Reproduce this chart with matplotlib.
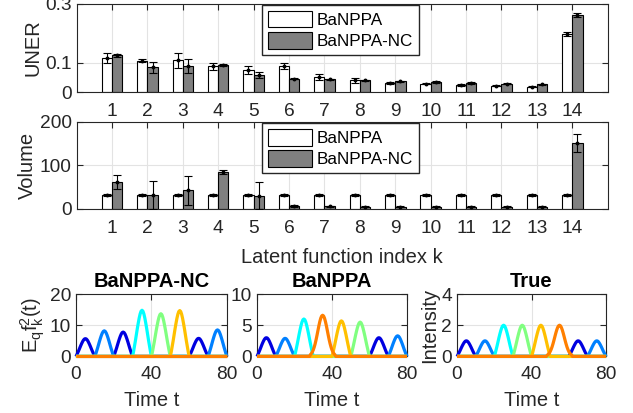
import matplotlib
matplotlib.use("Agg")
import matplotlib.pyplot as plt
import numpy as np

plt.rcParams['font.family'] = ['Liberation Sans', 'DejaVu Sans']
plt.rcParams['mathtext.fontset'] = 'custom'
plt.rcParams['mathtext.rm'] = 'Liberation Sans'
plt.rcParams['mathtext.it'] = 'Liberation Sans'

# --- bar data: latent function index k = 1..14 ---
k_idx = np.arange(1, 15)
uner_banppa = [0.116, 0.107, 0.108, 0.087, 0.075, 0.090, 0.050, 0.040, 0.031, 0.028, 0.024, 0.022, 0.018, 0.198]
uner_banppa_err = [0.018, 0.006, 0.026, 0.011, 0.013, 0.010, 0.010, 0.008, 0.002, 0.002, 0.002, 0.002, 0.002, 0.006]
uner_nc = [0.125, 0.084, 0.090, 0.093, 0.058, 0.046, 0.043, 0.040, 0.036, 0.034, 0.031, 0.028, 0.026, 0.261]
uner_nc_err = [0.005, 0.018, 0.024, 0.003, 0.010, 0.002, 0.002, 0.002, 0.002, 0.002, 0.002, 0.002, 0.002, 0.007]

vol_banppa = [32, 32, 32, 32, 32, 32, 32, 32, 32, 32, 32, 32, 32, 32]
vol_banppa_err = [1.5] * 14
vol_nc = [62, 32, 43, 85, 30, 7, 6, 5, 5, 5, 5, 5, 5, 151]
vol_nc_err = [16, 33, 33, 5, 31, 2, 1.5, 1.5, 1.5, 1.5, 1.5, 1.5, 1.5, 20]

# --- intensity curves: bumps centred at these times ---
bump_centres = [5, 15, 25, 35, 45, 55, 65, 75]
nc_heights = [5.7, 8.2, 7.8, 14.8, 13.7, 14.7, 5.8, 8.5]
nc_funcs = [0, 1, 0, 2, 3, 4, 0, 1]
ba_heights = [3.0, 2.9, 6.0, 6.6, 5.7, 5.5, 3.0, 3.3]
ba_funcs = [0, 1, 2, 5, 4, 3, 0, 1]
true_heights = [1, 1, 2, 2, 2, 2, 1, 1]
true_funcs = [0, 1, 2, 3, 4, 5, 0, 1]

func_colors = ['#0000e0', '#0080ff', '#00ffff', '#80ff80', '#ffc000', '#ff7f00']

# bump shapes, sampled every 0.5 time units
hump_offsets = np.arange(-5, 5.01, 0.5)
hump_shape = [0, .10, .22, .34, .47, .60, .72, .83, .92, .98, 1,
              .98, .92, .83, .72, .60, .47, .34, .22, .10, 0]
bell_offsets = np.arange(-7, 7.01, 0.5)
bell_shape = [0, .044, .070, .107, .157, .224, .306, .404, .514, .630, .744, .847, .929, .982, 1,
              .982, .929, .847, .744, .630, .514, .404, .306, .224, .157, .107, .070, .044, 0]

TXT = '#262626'
TICK_FS = 13.8
LABEL_FS = 14.5


def style_axes(ax, pad):
    ax.tick_params(direction='in', top=True, right=True, length=4, width=0.8,
                   colors=TXT, labelcolor=TXT, labelsize=TICK_FS)
    ax.tick_params(axis='x', pad=pad)
    for s in ax.spines.values():
        s.set_color(TXT)
        s.set_linewidth(0.8)
    ax.grid(True, color='#e3e3e3', linewidth=0.8)
    ax.set_axisbelow(True)


def bar_panel(ax, a, a_err, b, b_err, ylim, yticks, ylabel):
    w = 0.29
    ax.bar(k_idx - 0.145, a, w, color='white', edgecolor='black', linewidth=0.8, label='BaNPPA', zorder=2)
    ax.bar(k_idx + 0.145, b, w, color='#808080', edgecolor='black', linewidth=0.8, label='BaNPPA-NC', zorder=2)
    ax.errorbar(k_idx - 0.145, a, yerr=a_err, fmt='o', ms=1.8, color='black', ecolor='black',
                elinewidth=0.8, capsize=3, capthick=0.8, zorder=3)
    ax.errorbar(k_idx + 0.145, b, yerr=b_err, fmt='o', ms=1.8, color='black', ecolor='black',
                elinewidth=0.8, capsize=3, capthick=0.8, zorder=3)
    ax.set_xlim(0, 15)
    ax.set_ylim(*ylim)
    ax.set_xticks(k_idx)
    ax.set_yticks(yticks)
    ax.set_yticklabels([('%g' % v) for v in yticks])
    ax.set_ylabel(ylabel, fontsize=LABEL_FS, color=TXT, labelpad=2)
    style_axes(ax, pad=8)
    ax.legend(loc='upper left', bbox_to_anchor=(0.349, 0.985), borderaxespad=0, fontsize=12.3,
              fancybox=False, edgecolor=TXT, framealpha=1, handlelength=2.6, handleheight=1.1,
              handletextpad=0.25, labelspacing=0.25, borderpad=0.35)


def curve_panel(ax, heights, funcs, ylim, yticks, title, ylabel=None):
    for k, col in enumerate(func_colors):
        t = [0]
        y = [0]
        for c, h, f in zip(bump_centres, heights, funcs):
            if f != k:
                continue
            offs, shape = (bell_offsets, bell_shape) if k == 5 else (hump_offsets, hump_shape)
            t.extend(c + offs)
            y.extend(h * np.array(shape))
        t.append(80)
        y.append(0)
        # unclipped so the zero baseline shows at full width over the bottom spine
        ax.plot(t, y, color=col, linewidth=2.3, solid_capstyle='butt', zorder=3 + k, clip_on=False)
    ax.set_xlim(0, 80)
    ax.set_ylim(*ylim)
    ax.set_xticks([0, 40, 80])
    ax.set_yticks(yticks)
    ax.set_title(title, fontsize=LABEL_FS, fontweight='bold', pad=5)
    ax.set_xlabel('Time t', fontsize=LABEL_FS, color=TXT, labelpad=6)
    if ylabel:
        ax.set_ylabel(ylabel, fontsize=LABEL_FS, color=TXT, labelpad=2)
    style_axes(ax, pad=7)


fig = plt.figure(figsize=(6.33, 4.13), dpi=100)

ax_uner = fig.add_axes([0.121, 0.777, 0.839, 0.214])
bar_panel(ax_uner, uner_banppa, uner_banppa_err, uner_nc, uner_nc_err,
          (0, 0.3), [0, 0.1, 0.3], 'UNER')

ax_vol = fig.add_axes([0.121, 0.494, 0.839, 0.211])
bar_panel(ax_vol, vol_banppa, vol_banppa_err, vol_nc, vol_nc_err,
          (0, 200), [0, 100, 200], 'Volume')
ax_vol.set_xlabel('Latent function index k', fontsize=LABEL_FS, color=TXT, labelpad=8)

ax_nc = fig.add_axes([0.120, 0.137, 0.2385, 0.151])
curve_panel(ax_nc, nc_heights, nc_funcs, (0, 20), [0, 10, 20], 'BaNPPA-NC',
            r'$\mathrm{E}_{\mathrm{q}}\mathrm{f}_{\mathrm{k}}^{2}\mathrm{(t)}$')

ax_ba = fig.add_axes([0.406, 0.137, 0.237, 0.151])
curve_panel(ax_ba, ba_heights, ba_funcs, (0, 10), [0, 5, 10], 'BaNPPA')

ax_true = fig.add_axes([0.722, 0.137, 0.2355, 0.151])
curve_panel(ax_true, true_heights, true_funcs, (0, 4), [0, 2, 4], 'True', 'Intensity')

fig.savefig('out.png', dpi=100)
